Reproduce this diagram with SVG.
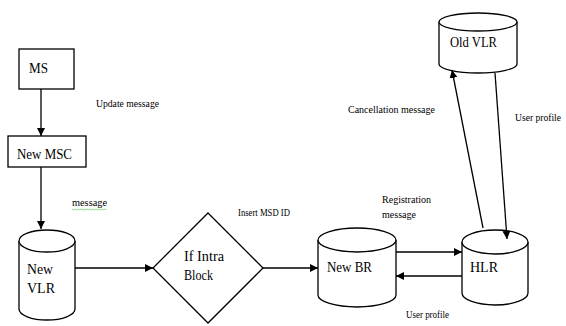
<svg xmlns="http://www.w3.org/2000/svg" width="566" height="326" viewBox="0 0 566 326" font-family="'Liberation Serif', 'DejaVu Serif', serif">
<style>
.shape{fill:#fff;stroke:#000;stroke-width:1.3}
.line{fill:none;stroke:#000;stroke-width:1.3}
text{font-family:"Liberation Serif","DejaVu Serif",serif;fill:#000}
.big{font-size:15px}
.small{font-size:10px}
</style>
<defs>
<marker id="arr" viewBox="0 0 10 10" refX="10" refY="5" markerWidth="8" markerHeight="8" markerUnits="userSpaceOnUse" orient="auto">
<path d="M0,0 L10,5 L0,10 Z" fill="#000"/>
</marker>
</defs>
<rect width="566" height="326" fill="#fff"/>
<g id="ms">
<rect class="shape" x="19" y="49" width="55" height="40"/>
<text class="big" x="29" y="73" textLength="19" lengthAdjust="spacingAndGlyphs">MS</text>
</g>
<g id="new-msc">
<rect class="shape" x="8" y="136" width="78" height="31"/>
<text class="big" x="17" y="159" textLength="55" lengthAdjust="spacingAndGlyphs">New MSC</text>
</g>
<g id="new-vlr">
<path class="shape" d="M19,241 L19,309 A28,11 0 0 0 75,309 L75,241"/>
<ellipse class="shape" cx="47" cy="241" rx="28" ry="11"/>
<text class="big" x="27" y="274" textLength="26" lengthAdjust="spacingAndGlyphs">New</text>
<text class="big" x="27" y="293" textLength="28" lengthAdjust="spacingAndGlyphs">VLR</text>
</g>
<g id="if-intra-block">
<polygon class="shape" points="208,213 263,268 208,323 153,268"/>
<text class="big" x="184" y="261" textLength="40" lengthAdjust="spacingAndGlyphs">If Intra</text>
<text class="big" x="184" y="280" textLength="29" lengthAdjust="spacingAndGlyphs">Block</text>
</g>
<g id="new-br">
<path class="shape" d="M318,240 L318,295 A39,12 0 0 0 396,295 L396,240"/>
<ellipse class="shape" cx="357" cy="240" rx="39" ry="12"/>
<text class="big" x="327" y="272" textLength="45" lengthAdjust="spacingAndGlyphs">New BR</text>
</g>
<g id="hlr">
<path class="shape" d="M462,242 L462,293 A33,12 0 0 0 528,293 L528,242"/>
<ellipse class="shape" cx="495" cy="242" rx="33" ry="12"/>
<text class="big" x="470" y="272" textLength="28" lengthAdjust="spacingAndGlyphs">HLR</text>
</g>
<g id="old-vlr">
<path class="shape" d="M439,22 L439,64 A39,9 0 0 0 517,64 L517,22"/>
<ellipse class="shape" cx="478" cy="22" rx="39" ry="9"/>
<text class="big" x="450" y="47" textLength="47" lengthAdjust="spacingAndGlyphs">Old VLR</text>
</g>
<g id="connectors">
<line class="line" x1="41" y1="89" x2="41" y2="136" marker-end="url(#arr)"/>
<line class="line" x1="41" y1="167" x2="41" y2="229" marker-end="url(#arr)"/>
<line class="line" x1="75" y1="268" x2="153" y2="268" marker-end="url(#arr)"/>
<line class="line" x1="263" y1="268" x2="318" y2="268" marker-end="url(#arr)"/>
<line class="line" x1="396" y1="252" x2="462" y2="252" marker-end="url(#arr)"/>
<line class="line" x1="462" y1="276" x2="396" y2="276" marker-end="url(#arr)"/>
<line class="line" x1="483" y1="228" x2="452" y2="70" marker-end="url(#arr)"/>
<line class="line" x1="495" y1="73" x2="507" y2="239" marker-end="url(#arr)"/>
</g>
<g id="labels">
<text class="small" x="96" y="107" textLength="63" lengthAdjust="spacingAndGlyphs">Update message</text>
<text class="small" x="72" y="206" textLength="35" lengthAdjust="spacingAndGlyphs">message</text>
<path d="M72,209 l1.5,1 l1.5,-1 l1.5,1 l1.5,-1 l1.5,1 l1.5,-1 l1.5,1 l1.5,-1 l1.5,1 l1.5,-1 l1.5,1 l1.5,-1 l1.5,1 l1.5,-1 l1.5,1 l1.5,-1 l1.5,1 l1.5,-1 l1.5,1 l1.5,-1 l1.5,1 l1.5,-1 l1.5,1" fill="none" stroke="#6c6" stroke-width="0.8"/>
<text class="small" x="238" y="216" textLength="52" lengthAdjust="spacingAndGlyphs">Insert MSD ID</text>
<text class="small" x="382" y="203" textLength="49" lengthAdjust="spacingAndGlyphs">Registration</text>
<text class="small" x="382" y="218" textLength="34" lengthAdjust="spacingAndGlyphs">message</text>
<text class="small" x="406" y="318" textLength="43" lengthAdjust="spacingAndGlyphs">User profile</text>
<text class="small" x="348" y="113" textLength="87" lengthAdjust="spacingAndGlyphs">Cancellation message</text>
<text class="small" x="515" y="121" textLength="46" lengthAdjust="spacingAndGlyphs">User profile</text>
</g>
</svg>
